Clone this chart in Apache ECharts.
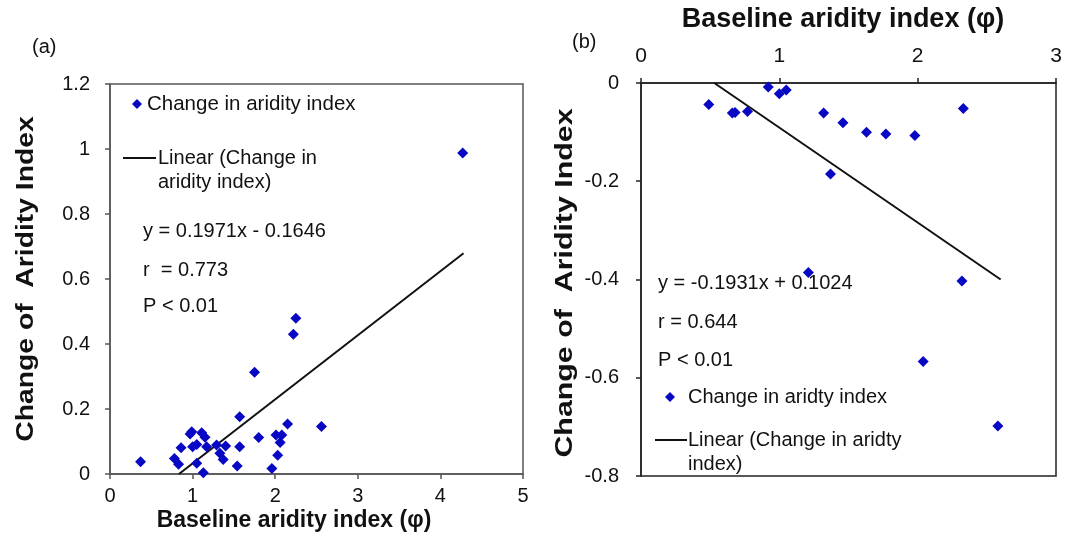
<!DOCTYPE html>
<html>
<head>
<meta charset="utf-8">
<script src="https://cdn.jsdelivr.net/npm/echarts@6/dist/echarts.min.js"></script>
<style>html,body{margin:0;padding:0;background:#fff;}#c{width:1072px;height:543px;}</style>
</head>
<body>
<div id="c"></div>
<script>
// Panel (a): baseline aridity index vs change in aridity index
const aX = [2.25,2.22,1.75,1.57,2.56,2.15,0.99,0.97,1.11,1.15,1.80,2.01,2.08,2.06,0.86,1.00,1.05,1.17,1.29,1.40,1.57,1.33,1.37,2.03,0.37,0.78,0.83,1.05,1.54,1.96,1.13,4.27];
const aY = [0.479,0.430,0.313,0.176,0.146,0.154,0.130,0.123,0.127,0.113,0.112,0.120,0.120,0.097,0.081,0.084,0.091,0.084,0.089,0.086,0.084,0.064,0.045,0.058,0.038,0.048,0.030,0.033,0.025,0.017,0.004,0.988];
const aTrendX = [0.835, 4.28];
const aTrendY = [0.0, 0.679];
// Panel (b)
const bX = [0.92,1.00,1.05,0.49,0.66,0.68,0.77,1.32,1.46,1.63,1.77,1.98,1.37,2.33,1.21,2.32,2.04,2.58];
const bY = [-0.008,-0.022,-0.014,-0.044,-0.061,-0.060,-0.058,-0.061,-0.081,-0.100,-0.104,-0.107,-0.185,-0.052,-0.386,-0.403,-0.567,-0.698];
const bTrendX = [0.53, 2.6];
const bTrendY = [0.0, -0.400];
const aTicksX = [0,1,2,3,4,5];
const aTicksY = [0,0.2,0.4,0.6,0.8,1,1.2];
const bTicksX = [0,1,2,3];
const bTicksY = [-0.8,-0.6,-0.4,-0.2,0];

const pairs = (xs, ys) => xs.map((x, i) => [x, ys[i]]);
const FONT = 'Liberation Sans, Arial, sans-serif';
const BLUE = '#0808c4';
const txt = (t, x, y, size, opts) => Object.assign({
  type: 'text', silent: true,
  style: Object.assign({text: t, x: x, y: y, font: size + 'px ' + FONT, fill: '#111',
    textAlign: 'left', textVerticalAlign: 'middle', align: 'left', verticalAlign: 'middle'}, (opts && opts.style) || {})
}, (opts && opts.el) || {});

const chart = echarts.init(document.getElementById('c'), null, {renderer: 'canvas'});
const axisCommon = (color) => ({
  axisLine: {show: true, onZero: false, lineStyle: {color: color, width: 1.5}},
  axisTick: {show: true, length: 5, lineStyle: {color: color, width: 1.5}},
  splitLine: {show: false},
  axisLabel: {color: '#111', fontSize: 20, fontFamily: FONT}
});
chart.setOption({
  animation: false,
  backgroundColor: '#fff',
  grid: [
    {left: 110, top: 84, width: 413, height: 390, show: true, borderColor: '#555', borderWidth: 1.5, backgroundColor: 'transparent'},
    {left: 641, top: 83, width: 415, height: 393, show: true, borderColor: '#222', borderWidth: 1.5, backgroundColor: 'transparent'}
  ],
  xAxis: [
    Object.assign(axisCommon('#555'), {gridIndex: 0, type: 'value', min: aTicksX[0], max: aTicksX[aTicksX.length-1], interval: 1,
      axisLabel: {color: '#111', fontSize: 20, fontFamily: FONT, margin: 12}}),
    Object.assign(axisCommon('#222'), {gridIndex: 1, type: 'value', position: 'top', min: bTicksX[0], max: bTicksX[bTicksX.length-1], interval: 1,
      axisLabel: {color: '#111', fontSize: 21, fontFamily: FONT, margin: 16}})
  ],
  yAxis: [
    Object.assign(axisCommon('#555'), {gridIndex: 0, type: 'value', min: aTicksY[0], max: aTicksY[aTicksY.length-1], interval: 0.2,
      axisLabel: {color: '#111', fontSize: 20, fontFamily: FONT, margin: 20}}),
    Object.assign(axisCommon('#222'), {gridIndex: 1, type: 'value', min: bTicksY[0], max: bTicksY[bTicksY.length-1], interval: 0.2,
      axisLabel: {color: '#111', fontSize: 20, fontFamily: FONT, margin: 22}})
  ],
  series: [
    {name: 'Change in aridity index', type: 'scatter', xAxisIndex: 0, yAxisIndex: 0, symbol: 'diamond', symbolSize: 11,
      itemStyle: {color: BLUE, opacity: 1}, data: pairs(aX, aY), z: 3},
    {name: 'Linear (Change in aridity index)', type: 'line', xAxisIndex: 0, yAxisIndex: 0, symbol: 'none',
      lineStyle: {color: '#111', width: 2}, data: pairs(aTrendX, aTrendY), z: 2},
    {name: 'Change in aridty index', type: 'scatter', xAxisIndex: 1, yAxisIndex: 1, symbol: 'diamond', symbolSize: 11,
      itemStyle: {color: BLUE, opacity: 1}, data: pairs(bX, bY), z: 3},
    {name: 'Linear (Change in aridty index)', type: 'line', xAxisIndex: 1, yAxisIndex: 1, symbol: 'none',
      lineStyle: {color: '#111', width: 2}, data: pairs(bTrendX, bTrendY), z: 2}
  ],
  graphic: [
    txt('(a)', 32, 47, 20),
    txt('(b)', 572, 42, 20),
    // panel a legend & stats
    {type: 'polygon', silent: true, shape: {points: [[137,99],[142,104],[137,109],[132,104]]}, style: {fill: BLUE}},
    txt('Change in aridity index', 147, 104, 20.5),
    {type: 'line', silent: true, shape: {x1: 123, y1: 158, x2: 156, y2: 158}, style: {stroke: '#111', lineWidth: 2}},
    txt('Linear (Change in', 158, 158, 20),
    txt('aridity index)', 158, 182, 20),
    txt('y = 0.1971x - 0.1646', 143, 231, 20),
    txt('r  = 0.773', 143, 270, 20),
    txt('P < 0.01', 143, 306, 20),
    // panel b stats & legend
    txt('y = -0.1931x + 0.1024', 658, 283, 20),
    txt('r = 0.644', 658, 322, 20),
    txt('P < 0.01', 658, 360, 20),
    {type: 'polygon', silent: true, shape: {points: [[670,392],[675,397],[670,402],[665,397]]}, style: {fill: BLUE}},
    txt('Change in aridty index', 688, 397, 20),
    {type: 'line', silent: true, shape: {x1: 655, y1: 440, x2: 687, y2: 440}, style: {stroke: '#111', lineWidth: 2}},
    txt('Linear (Change in aridty', 688, 440, 20),
    txt('index)', 688, 464, 20),
    // axis titles
    txt('Baseline aridity index (\u03c6)', 294, 521, 23, {style: {font: 'bold 23px ' + FONT, textAlign: 'center', align: 'center'}}),
    txt('Baseline aridity index (\u03c6)', 843, 20, 27, {style: {font: 'bold 27px ' + FONT, textAlign: 'center', align: 'center'}}),
    txt('Change of  Aridity Index', 0, 0, 23, {style: {font: 'bold 23px ' + FONT, textAlign: 'center', align: 'center'},
      el: {x: 27, y: 279, rotation: Math.PI / 2, scaleX: 1.23}}),
    txt('Change of  Aridity Index', 0, 0, 23, {style: {font: 'bold 23px ' + FONT, textAlign: 'center', align: 'center'},
      el: {x: 566, y: 283, rotation: Math.PI / 2, scaleX: 1.32}})
  ]
});
</script>
</body>
</html>
